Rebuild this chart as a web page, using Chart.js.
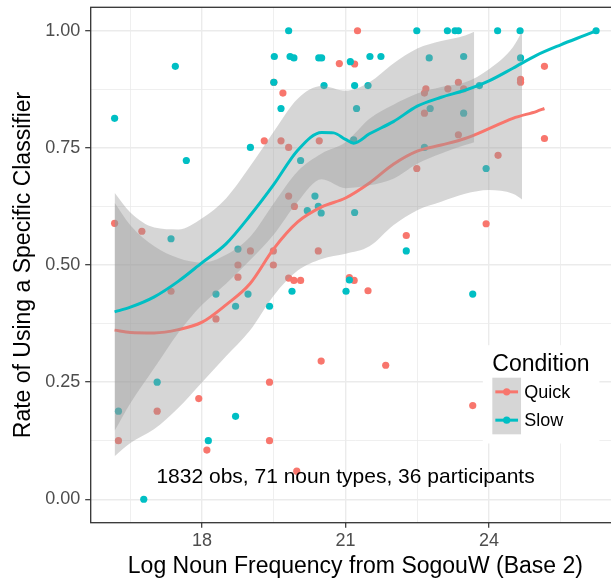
<!DOCTYPE html>
<html>
<head>
<meta charset="utf-8">
<script src="https://cdn.jsdelivr.net/npm/chart.js@4.4.1/dist/chart.umd.min.js"></script>
<style>
  html, body { margin: 0; padding: 0; background: #fff; overflow: hidden; }
  #wrap { width: 622px; height: 579px; }
</style>
</head>
<body>
<div id="wrap"><canvas id="chart" width="622" height="579"></canvas></div>
<script>
// --- points (one per noun type and condition) ---
const quickX = [20.87, 21.19, 19.50, 19.69, 19.30, 19.65, 19.81, 20.45, 16.17, 16.74,
                19.81, 19.93, 19.01, 19.49, 20.43, 18.75, 19.49, 18.75, 17.35, 18.29,
                19.81, 19.92, 20.06, 21.08, 21.18, 21.47, 21.84, 23.66, 20.49, 19.41,
                17.93, 17.06, 16.25, 19.41, 18.10, 19.98, 21.25, 22.68, 22.65, 23.14,
                23.36, 23.47, 24.66, 24.66, 22.65, 23.36, 25.16, 25.16, 24.19, 22.49,
                23.94, 22.27];
const quickY = [0.930, 0.929, 0.890, 0.867, 0.765, 0.765, 0.751, 0.765, 0.589, 0.572,
                0.647, 0.625, 0.530, 0.530, 0.530, 0.500, 0.500, 0.474, 0.444, 0.385,
                0.472, 0.467, 0.467, 0.473, 0.467, 0.445, 0.286, 0.200, 0.295, 0.250,
                0.215, 0.188, 0.125, 0.125, 0.105, 0.060, 1.000, 0.876, 0.867, 0.876,
                0.890, 0.876, 0.896, 0.890, 0.824, 0.778, 0.770, 0.924, 0.734, 0.706,
                0.588, 0.563];

const slowX = [19.81, 19.51, 19.84, 19.92, 20.44, 20.50, 21.10, 17.44, 19.50, 20.55,
               19.65, 16.17, 19.01, 17.67, 20.06, 17.35, 20.36, 20.20, 20.43, 20.49,
               18.75, 18.29, 18.96, 18.70, 19.41, 19.88, 21.01, 21.08, 23.66, 17.06,
               16.25, 18.70, 18.13, 16.78, 22.49, 23.13, 23.29, 23.36, 24.18, 24.65,
               26.24, 21.51, 21.74, 22.75, 23.47, 24.66, 21.19, 21.47, 23.80, 21.23,
               22.77, 23.47, 21.17, 22.65, 23.94, 21.19, 22.27];
const slowY = [1.000, 0.945, 0.945, 0.942, 0.942, 0.942, 0.934, 0.924, 0.890, 0.883,
               0.834, 0.813, 0.751, 0.723, 0.723, 0.556, 0.647, 0.616, 0.625, 0.611,
               0.534, 0.438, 0.438, 0.412, 0.412, 0.444, 0.444, 0.468, 0.438, 0.250,
               0.188, 0.177, 0.125, 0.000, 1.000, 1.000, 1.000, 1.000, 1.000, 1.000,
               1.000, 0.945, 0.945, 0.942, 0.945, 0.942, 0.883, 0.883, 0.883, 0.834,
               0.834, 0.824, 0.767, 0.751, 0.706, 0.612, 0.530];

// --- loess fits and confidence bands ---
const quickFitX = [16.17, 16.5, 17, 17.5, 18, 18.5, 19, 19.5, 20, 20.5, 21, 21.5, 22, 22.5, 23, 23.5, 24, 24.5, 25, 25.16];
const quickFit  = [0.361, 0.356, 0.355, 0.362, 0.378, 0.415, 0.460, 0.535, 0.592, 0.624, 0.643, 0.675, 0.715, 0.743, 0.756, 0.770, 0.791, 0.813, 0.828, 0.834];
const quickBandX = [16.17, 16.5, 17, 17.5, 18, 18.5, 19, 19.5, 20, 20.5, 21, 21.5, 22, 22.5, 23, 23.5, 24, 24.5, 24.69];
const quickUpper = [0.633, 0.585, 0.540, 0.515, 0.505, 0.522, 0.560, 0.632, 0.700, 0.738, 0.762, 0.812, 0.842, 0.866, 0.880, 0.890, 0.918, 0.965, 0.998];
const quickLower = [0.092, 0.120, 0.150, 0.195, 0.250, 0.305, 0.360, 0.435, 0.488, 0.513, 0.524, 0.540, 0.585, 0.617, 0.635, 0.652, 0.660, 0.652, 0.640];

const slowFitX = [16.17, 16.5, 17, 17.5, 18, 18.5, 19, 19.5, 20, 20.5, 20.75, 21, 21.17, 21.5, 22, 22.5, 23, 23.5, 24, 24.5, 25, 25.5, 26, 26.2];
const slowFit  = [0.400, 0.410, 0.432, 0.465, 0.505, 0.545, 0.605, 0.672, 0.745, 0.783, 0.782, 0.768, 0.760, 0.780, 0.806, 0.839, 0.858, 0.873, 0.893, 0.920, 0.948, 0.970, 0.990, 0.998];
const slowBandX = [16.17, 16.5, 17, 17.5, 18, 18.5, 19, 19.5, 20, 20.5, 21, 21.5, 22, 22.5, 23, 23.5, 23.69];
const slowUpper = [0.654, 0.612, 0.580, 0.576, 0.600, 0.642, 0.710, 0.785, 0.855, 0.882, 0.872, 0.890, 0.930, 0.962, 0.978, 0.990, 0.998];
const slowLower = [0.146, 0.205, 0.280, 0.355, 0.415, 0.460, 0.510, 0.565, 0.635, 0.683, 0.664, 0.670, 0.684, 0.716, 0.738, 0.756, 0.762];

// --- axes ---
const xMajor = [18, 21, 24];
const xTickLabels = ['18', '21', '24'];
const xMinor = [16.5, 19.5, 22.5, 25.5];
const yMajor = [0, 0.25, 0.5, 0.75, 1];
const yTickLabels = ['0.00', '0.25', '0.50', '0.75', '1.00'];
const yMinor = [0.125, 0.375, 0.625, 0.875];

const xTitle = 'Log Noun Frequency from SogouW (Base 2)';
const yTitle = 'Rate of Using a Specific Classifier';
const noteText = '1832 obs, 71 noun types, 36 participants';
const noteX = 21, noteY = 0.047;
const legendTitle = 'Condition';
const legendLabels = ['Quick', 'Slow'];

const RED = '#F8766D';
const TEAL = '#00BFC4';
const BAND = 'rgba(153,153,153,0.4)';
const FONT = '"Liberation Sans", Arial, Helvetica, sans-serif';

const toXY = (xs, ys) => xs.map((x, i) => ({ x: x, y: ys[i] }));
const isIn = (v, arr) => arr.some(a => Math.abs(a - v) < 1e-6);
const labelFor = (v, majors, labels) => {
    const i = majors.findIndex(a => Math.abs(a - v) < 1e-6);
    return i >= 0 ? labels[i] : '';
};

Chart.defaults.font.family = FONT;

const pointSet = (label, xs, ys, color, order) => ({
    label: label, data: toXY(xs, ys), showLine: false, order: order,
    pointRadius: 3.6, pointBackgroundColor: color, pointBorderWidth: 0, pointHoverRadius: 3.6
});
const bandSet = (xs, ys, fill, order) => ({
    data: toXY(xs, ys), fill: fill, order: order, backgroundColor: BAND,
    borderColor: 'rgba(0,0,0,0)', borderWidth: 0, pointRadius: 0, cubicInterpolationMode: 'monotone'
});
const fitSet = (xs, ys, color, order) => ({
    data: toXY(xs, ys), fill: false, order: order, borderColor: color, borderWidth: 3,
    pointRadius: 0, cubicInterpolationMode: 'monotone'
});

// panel border, note text and legend drawn on top
const overlay = {
    id: 'overlay',
    afterDatasetsDraw(chart) {
        const { ctx, chartArea: a, scales } = chart;
        ctx.save();
        ctx.fillStyle = '#000';
        ctx.font = '21px ' + FONT;
        ctx.textAlign = 'center';
        ctx.textBaseline = 'middle';
        ctx.fillText(noteText, scales.x.getPixelForValue(noteX), scales.y.getPixelForValue(noteY));

        ctx.strokeStyle = '#333333';
        ctx.lineWidth = 1.3;
        ctx.strokeRect(a.left, a.top, a.right - a.left, a.bottom - a.top);

        // legend box, placed like legend.position = c(0.851, 0.249)
        const w = 116.6, h = 98.3;
        const bx = a.left + 0.851 * (a.right - a.left) - w / 2;
        const by = a.bottom - 0.249 * (a.bottom - a.top) - h / 2;
        ctx.fillStyle = '#fff';
        ctx.fillRect(bx, by, w, h);
        ctx.fillStyle = '#000';
        ctx.font = '23px ' + FONT;
        ctx.textAlign = 'left';
        ctx.textBaseline = 'alphabetic';
        ctx.fillText(legendTitle, bx + 9.5, by + 25.5);
        const colors = [RED, TEAL];
        const kx = bx + 9.5, ky = by + 32.5, ks = 28.3, kw = 28.7;
        ctx.fillStyle = '#D6D6D6';
        ctx.fillRect(kx, ky, kw, ks * 2);
        ctx.font = '18px ' + FONT;
        ctx.textBaseline = 'middle';
        legendLabels.forEach((lab, i) => {
            const cy = ky + ks * i + ks / 2;
            ctx.strokeStyle = colors[i];
            ctx.lineWidth = 3;
            ctx.beginPath();
            ctx.moveTo(kx + 3, cy);
            ctx.lineTo(kx + kw - 3, cy);
            ctx.stroke();
            ctx.fillStyle = colors[i];
            ctx.beginPath();
            ctx.arc(kx + kw / 2, cy, 3.6, 0, Math.PI * 2);
            ctx.fill();
            ctx.fillStyle = '#000';
            ctx.fillText(lab, bx + 41.5, cy + 1);
        });
        ctx.restore();
    }
};

new Chart(document.getElementById('chart'), {
    type: 'line',
    data: {
        datasets: [
            pointSet('Quick', quickX, quickY, RED, 20),
            pointSet('Slow', slowX, slowY, TEAL, 19),
            bandSet(quickBandX, quickUpper, '+1', 15),
            bandSet(quickBandX, quickLower, false, 15),
            fitSet(quickFitX, quickFit, RED, 14),
            bandSet(slowBandX, slowUpper, '+1', 10),
            bandSet(slowBandX, slowLower, false, 10),
            fitSet(slowFitX, slowFit, TEAL, 9)
        ]
    },
    options: {
        responsive: false,
        animation: false,
        events: [],
        layout: { autoPadding: false, padding: { top: 7.3, right: 2, left: 0, bottom: 0 } },
        plugins: { legend: { display: false }, tooltip: { enabled: false } },
        scales: {
            x: {
                type: 'linear', min: 15.67, max: 26.74,
                afterBuildTicks: s => { s.ticks = xMajor.concat(xMinor).sort((a, b) => a - b).map(v => ({ value: v })); },
                afterFit: s => { s.height = 56.3; s.paddingLeft = s.paddingRight = s.paddingTop = s.paddingBottom = 0; },
                ticks: {
                    autoSkip: false, maxRotation: 0, color: '#4D4D4D', font: { size: 18 }, padding: 2.4,
                    callback: v => labelFor(v, xMajor, xTickLabels)
                },
                grid: {
                    color: '#EBEBEB',
                    lineWidth: c => isIn(c.tick.value, xMajor) ? 1.4 : 0.8,
                    tickLength: 5,
                    tickWidth: 1.2,
                    tickColor: c => isIn(c.tick.value, xMajor) ? '#333333' : 'rgba(0,0,0,0)'
                },
                border: { display: false },
                title: { display: true, text: xTitle, color: '#000', font: { size: 23, lineHeight: 1 }, padding: { top: 0, bottom: 0.5 } }
            },
            y: {
                type: 'linear', min: -0.05, max: 1.05,
                afterBuildTicks: s => { s.ticks = yMajor.concat(yMinor).sort((a, b) => a - b).map(v => ({ value: v })); },
                afterFit: s => { s.width = 90.7; s.paddingLeft = s.paddingRight = s.paddingTop = s.paddingBottom = 0; },
                ticks: {
                    autoSkip: false, color: '#4D4D4D', font: { size: 18 }, padding: 5,
                    callback: v => labelFor(v, yMajor, yTickLabels)
                },
                grid: {
                    color: '#EBEBEB',
                    lineWidth: c => isIn(c.tick.value, yMajor) ? 1.4 : 0.8,
                    tickLength: 5.5,
                    tickWidth: 1.2,
                    tickColor: c => isIn(c.tick.value, yMajor) ? '#333333' : 'rgba(0,0,0,0)'
                },
                border: { display: false },
                title: { display: true, text: yTitle, color: '#000', font: { size: 23, lineHeight: 1 }, padding: { top: 12.2, bottom: 0 } }
            }
        }
    },
    plugins: [overlay]
});
</script>
</body>
</html>
